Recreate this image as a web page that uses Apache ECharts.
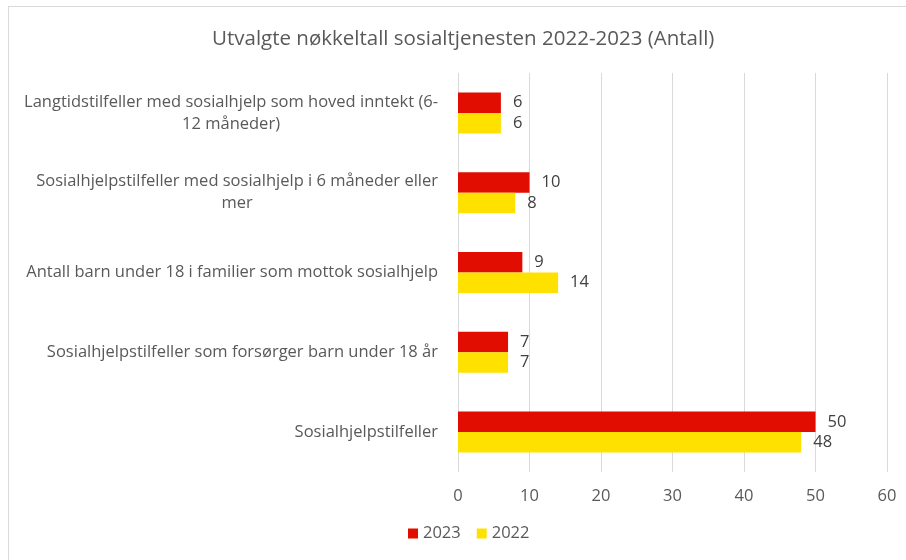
<!DOCTYPE html>
<html><head><meta charset="utf-8">
<script src="https://cdn.jsdelivr.net/npm/echarts@6/dist/echarts.min.js"></script>
<style>
html,body{margin:0;padding:0;background:#fff;}
#wrap{position:relative;width:906px;height:560px;overflow:hidden;}
#chart{position:absolute;left:0;top:0;width:906px;height:560px;}
#frame{position:absolute;left:8px;top:6px;width:1000px;height:700px;border:1px solid #d9d9d9;pointer-events:none;}
</style></head>
<body><div id="wrap"><div id="chart"></div><div id="frame"></div></div>
<script>
var title = 'Utvalgte nøkkeltall sosialtjenesten 2022-2023 (Antall)';
var categories = [
  'Langtidstilfeller med sosialhjelp som hoved inntekt (6-\n12 måneder)',
  'Sosialhjelpstilfeller med sosialhjelp i 6 måneder eller\nmer',
  'Antall barn under 18 i familier som mottok sosialhjelp',
  'Sosialhjelpstilfeller som forsørger barn under 18 år',
  'Sosialhjelpstilfeller'
];
var values2023 = [6, 10, 9, 7, 50];
var values2022 = [6, 8, 14, 7, 48];
var xTicks = {min: 0, max: 60, interval: 10};
var font = '"Open Sans", "Noto Sans", sans-serif';
var fs = 16.5;

var chart = echarts.init(document.getElementById('chart'));
chart.setOption({
  animation: false,
  textStyle: {fontFamily: font},
  title: {text: title, left: 207, top: 24,
    textStyle: {fontFamily: font, fontSize: 20.5, fontWeight: 'normal', color: '#595959'}},
  legend: {data: ['2023', '2022'], bottom: 13, left: 403, icon: 'rect', itemWidth: 10, itemHeight: 10, itemGap: 16,
    textStyle: {fontFamily: font, fontSize: fs, color: '#595959'}},
  grid: {left: 458, right: 19, top: 73, bottom: 88},
  xAxis: {type: 'value', min: xTicks.min, max: xTicks.max, interval: xTicks.interval,
    axisLine: {show: false}, axisTick: {show: false},
    splitLine: {lineStyle: {color: '#d9d9d9', width: 1}},
    axisLabel: {fontFamily: font, fontSize: fs, color: '#595959', margin: 16}},
  yAxis: {type: 'category', data: categories, inverse: true,
    axisLine: {show: false}, axisTick: {show: false},
    axisLabel: {fontFamily: font, fontSize: fs, color: '#595959', margin: 20,
      formatter: function (v) { return v.split('\n').map(function (l) { return '{c|' + l + '}'; }).join('\n'); },
      rich: {c: {align: 'center', fontFamily: font, fontSize: fs, color: '#595959', lineHeight: 22}}}},
  series: [
    {name: '2023', type: 'bar', data: values2023, barWidth: 20.5, barGap: '0%', barCategoryGap: '50%',
      itemStyle: {color: '#E00D00'},
      label: {show: true, position: 'right', distance: 12, fontFamily: font, fontSize: fs, color: '#404040'}},
    {name: '2022', type: 'bar', data: values2022, barWidth: 20.5, barGap: '0%',
      itemStyle: {color: '#FFE100'},
      label: {show: true, position: 'right', distance: 12, fontFamily: font, fontSize: fs, color: '#404040'}}
  ]
});
</script></body></html>
